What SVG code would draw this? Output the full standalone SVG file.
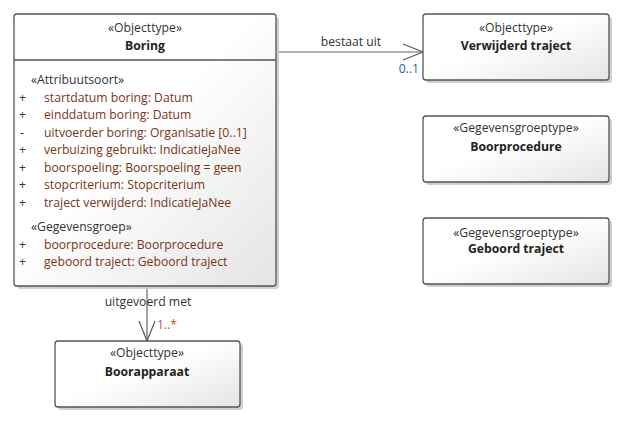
<svg xmlns="http://www.w3.org/2000/svg" width="623" height="423" viewBox="0 0 623 423">
<defs>
<linearGradient id="g" x1="0" y1="0" x2="1" y2="1">
<stop offset="0" stop-color="#ffffff"/>
<stop offset="0.45" stop-color="#ffffff"/>
<stop offset="1" stop-color="#e4e4e4"/>
</linearGradient>
<marker id="arr" viewBox="0 0 22 18" refX="21" refY="9" markerWidth="22" markerHeight="18" markerUnits="userSpaceOnUse" orient="auto">
<path d="M1,1 L21,9 L1,17" fill="none" stroke="#5a5a5a" stroke-width="1.2"/>
</marker>
</defs>
<style>
text{font-family:"Open Sans","Noto Sans","DejaVu Sans",sans-serif;font-size:12.2px;fill:#222}
.st{text-anchor:middle;fill:#333}
.nm{text-anchor:middle;font-weight:bold;fill:#222}
.at{fill:#7a3418}
.vis{fill:#333}
.box{fill:url(#g);stroke:#555;stroke-width:1.3}
.sh{fill:#cfcfcf}
.lbl{fill:#333}
.ln{stroke:#666;stroke-width:1.2;fill:none}
</style>
<g id="connectors">
<path class="ln" d="M276,52 L423,52" marker-end="url(#arr)"/>
<text class="lbl" x="351" y="46" text-anchor="middle">bestaat uit</text>
<text x="419" y="73" text-anchor="end" style="fill:#2e5f96">0..1</text>
<path class="ln" d="M147,286 L147,341" marker-end="url(#arr)"/>
<text class="lbl" x="148" y="306" text-anchor="middle">uitgevoerd met</text>
<text x="157" y="329" style="fill:#b0601a">1..*</text>
</g>
<g id="boring">
<rect class="sh" x="17" y="17" width="262" height="272" rx="3"/>
<rect class="box" x="14" y="14" width="262" height="272" rx="3"/>
<line x1="14" y1="60" x2="276" y2="60" stroke="#555" stroke-width="1.3"/>
<text class="st" x="145" y="32">«Objecttype»</text>
<text class="nm" x="145" y="50">Boring</text>
<text x="31" y="84" class="vis">«Attribuutsoort»</text>
<text x="19" y="102" class="vis">+</text><text x="44" y="102" class="at">startdatum boring: Datum</text>
<text x="19" y="119" class="vis">+</text><text x="44" y="119" class="at">einddatum boring: Datum</text>
<text x="20" y="137" class="vis">-</text><text x="44" y="137" class="at">uitvoerder boring: Organisatie [0..1]</text>
<text x="19" y="154" class="vis">+</text><text x="44" y="154" class="at">verbuizing gebruikt: IndicatieJaNee</text>
<text x="19" y="172" class="vis">+</text><text x="44" y="172" class="at">boorspoeling: Boorspoeling = geen</text>
<text x="19" y="189" class="vis">+</text><text x="44" y="189" class="at">stopcriterium: Stopcriterium</text>
<text x="19" y="207" class="vis">+</text><text x="44" y="207" class="at">traject verwijderd: IndicatieJaNee</text>
<text x="31" y="231" class="vis">«Gegevensgroep»</text>
<text x="19" y="249" class="vis">+</text><text x="44" y="249" class="at">boorprocedure: Boorprocedure</text>
<text x="19" y="266" class="vis">+</text><text x="44" y="266" class="at">geboord traject: Geboord traject</text>
</g>
<g id="verwijderd-traject">
<rect class="sh" x="426" y="17" width="186" height="66" rx="3"/>
<rect class="box" x="423" y="14" width="186" height="66" rx="3"/>
<text class="st" x="516" y="32">«Objecttype»</text>
<text class="nm" x="516" y="50">Verwijderd traject</text>
</g>
<g id="boorprocedure">
<rect class="sh" x="426" y="119" width="186" height="66" rx="3"/>
<rect class="box" x="423" y="116" width="186" height="66" rx="3"/>
<text class="st" x="516" y="132">«Gegevensgroeptype»</text>
<text class="nm" x="516" y="151">Boorprocedure</text>
</g>
<g id="geboord-traject">
<rect class="sh" x="426" y="221" width="186" height="66" rx="3"/>
<rect class="box" x="423" y="218" width="186" height="66" rx="3"/>
<text class="st" x="516" y="237">«Gegevensgroeptype»</text>
<text class="nm" x="516" y="253">Geboord traject</text>
</g>
<g id="boorapparaat">
<rect class="sh" x="58" y="344" width="185" height="66" rx="3"/>
<rect class="box" x="55" y="341" width="185" height="66" rx="3"/>
<text class="st" x="147" y="357">«Objecttype»</text>
<text class="nm" x="147" y="376">Boorapparaat</text>
</g>
</svg>
